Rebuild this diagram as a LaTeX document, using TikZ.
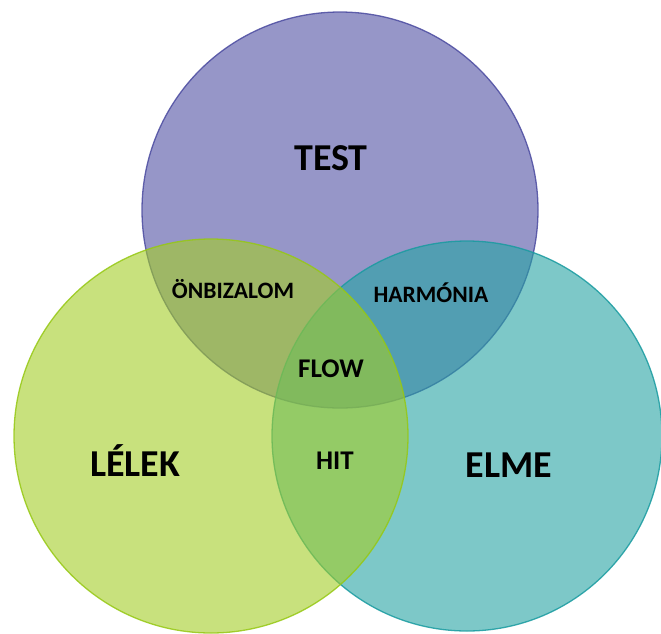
\documentclass[tikz,border=0pt]{standalone}
\usepackage{fontspec}
\setmainfont{Carlito}
\usepackage{tikz}
\definecolor{testfill}{RGB}{80, 80, 163}
\definecolor{testline}{RGB}{75, 75, 160}
\definecolor{lelekfill}{RGB}{163, 205, 38}
\definecolor{lelekline}{RGB}{150, 200, 20}
\definecolor{elmefill}{RGB}{38, 163, 163}
\definecolor{elmeline}{RGB}{25, 155, 160}
\tikzset{
	venn/.style={circle, inner sep=0pt, minimum size=#1, line width=1.3pt, fill opacity=0.6, draw opacity=0.85},
	bigtxt/.style={inner sep=0pt, anchor=base, font=\bfseries\fontsize{38}{40}\selectfont},
	midtxt/.style={inner sep=0pt, anchor=base, font=\bfseries\fontsize{27}{29}\selectfont},
	smalltxt/.style={inner sep=0pt, anchor=base, font=\bfseries\fontsize{23.5}{25}\selectfont}
}

\begin{document}
\begin{tikzpicture}[x=1pt, y=-1pt]
	\useasboundingbox (0,0) rectangle (661,633);
	% the three circles
	\node[venn=396pt, draw=testline, fill=testfill] (test) at (340,210) {};
	\node[venn=390pt, draw=elmeline, fill=elmefill] (elme) at (467,436) {};
	\node[venn=394pt, draw=lelekline, fill=lelekfill] (lelek) at (211,436) {};

	% labels
	\node[bigtxt] (testlab) at (331,170) {TEST};
	\node[bigtxt] (leleklab) at (135,476) {LÉLEK};
	\node[bigtxt] (elmelab) at (509,477) {ELME};
	\node[smalltxt] (onbizalom) at (233,298) {ÖNBIZALOM};
	\node[smalltxt] (harmonia) at (431,302) {HARMÓNIA};
	\node[midtxt] (flow) at (331,377) {FLOW};
	\node[midtxt] (hit) at (335,469) {HIT};
\end{tikzpicture}
\end{document}
